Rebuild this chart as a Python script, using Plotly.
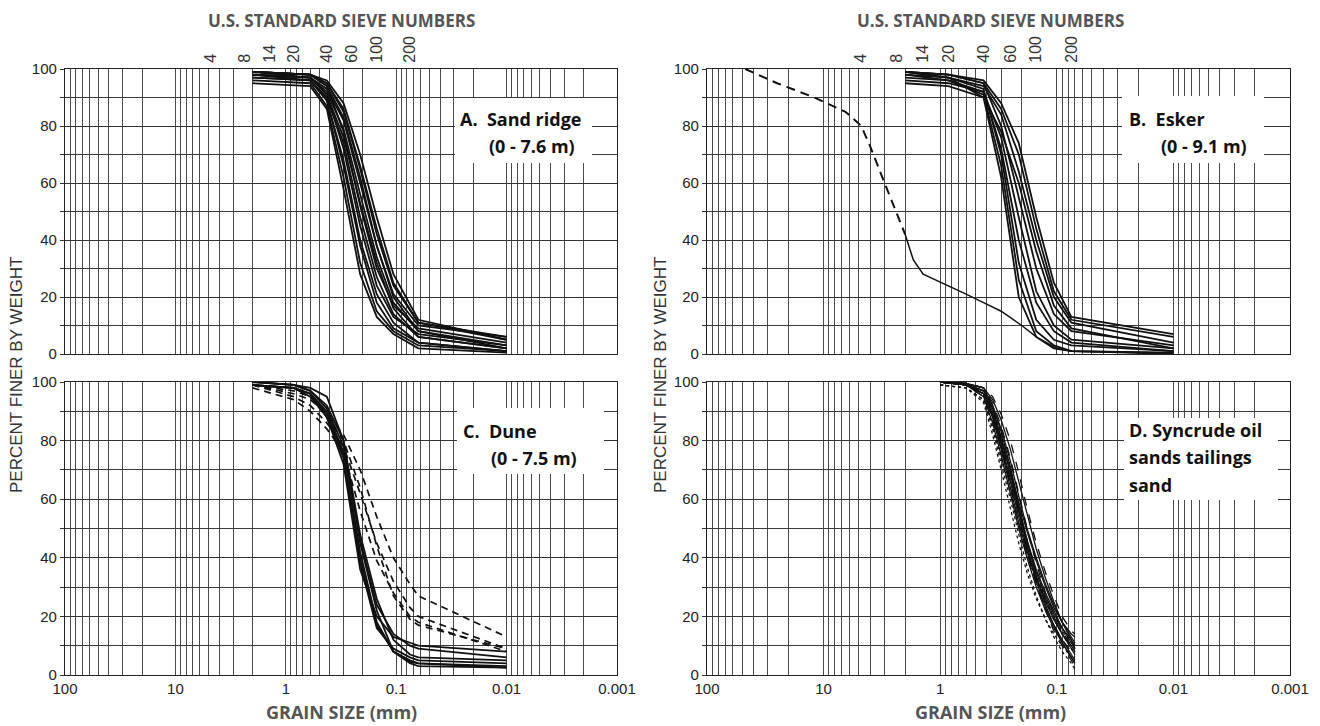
import plotly.graph_objects as go

W, H = 1320, 726
OX, OY = 8, 8  # page body offset of the rendered figure

# ---------------- axis labels / ticks ----------------
sieve_numbers = ["4", "8", "14", "20", "40", "60", "100", "200"]
sieve_sizes_mm = [4.75, 2.36, 1.40, 0.85, 0.425, 0.25, 0.15, 0.075]
grain_ticks = [100, 10, 1, 0.1, 0.01, 0.001]
grain_tick_text = ["100", "10", "1", "0.1", "0.01", "0.001"]
percent_ticks = [0, 20, 40, 60, 80, 100]

# ---------------- Panel A: Sand ridge ----------------
a_sizes = [2.0, 0.6, 0.425, 0.3, 0.212, 0.15, 0.106, 0.063, 0.01]
a_curves = [
    [99, 98, 94, 78, 52, 30, 17, 9, 4],
    [99, 98, 95, 85, 65, 42, 24, 11, 6],
    [98, 97, 91, 72, 45, 24, 13, 7, 3],
    [97, 96, 89, 66, 38, 18, 9, 4, 1],
    [99, 98, 96, 88, 70, 48, 28, 12, 5],
    [96, 95, 87, 62, 32, 15, 8, 3, 1],
    [98, 97, 92, 79, 56, 34, 18, 8, 3],
    [99, 98, 95, 86, 66, 44, 25, 11, 5],
    [95, 94, 86, 58, 28, 13, 7, 2, 0.5],
    [98, 96, 90, 74, 48, 27, 14, 6, 2],
    [99, 97, 93, 82, 60, 38, 21, 10, 6],
    [97, 96, 89, 68, 40, 21, 11, 4, 1],
    [99, 98, 94, 83, 62, 38, 20, 8, 2],
    [98, 97, 91, 76, 53, 32, 16, 6, 2],
]

# ---------------- Panel B: Esker ----------------
b_sizes = [2.0, 0.85, 0.425, 0.3, 0.212, 0.15, 0.106, 0.075, 0.01]
b_curves = [
    [99, 98, 96, 88, 74, 48, 25, 13, 7],
    [99, 98, 95, 86, 70, 44, 22, 12, 6],
    [98, 97, 94, 84, 64, 40, 20, 11, 4],
    [99, 98, 95, 80, 55, 30, 14, 8, 3],
    [96, 95, 92, 76, 48, 22, 10, 5, 2],
    [99, 97, 93, 70, 32, 12, 5, 3, 1],
    [98, 96, 91, 66, 26, 8, 3, 1, 0.5],
    [99, 97, 90, 62, 20, 6, 2, 1, 0.3],
    [97, 96, 92, 72, 40, 18, 8, 4, 1],
    [95, 94, 90, 78, 60, 36, 17, 9, 2],
]
# gravelly sample: coarse (dashed) part and fine (solid) part
b_gravel_coarse_sizes = [47, 25, 12, 6.5, 4.75, 4.0, 3.0, 2.0]
b_gravel_coarse_vals = [100, 95, 90, 85, 80, 73, 60, 42]
b_gravel_fine_sizes = [2.0, 1.7, 1.4, 0.85, 0.6, 0.425, 0.3, 0.2, 0.15, 0.1, 0.075, 0.01]
b_gravel_fine_vals = [42, 33, 28, 24, 21, 18, 15, 10, 6, 2, 1, 0]

# ---------------- Panel C: Dune ----------------
c_sizes = [2.0, 0.85, 0.6, 0.425, 0.3, 0.212, 0.15, 0.106, 0.075, 0.063, 0.01]
c_solid = [
    [100, 99, 98, 95, 80, 45, 22, 8, 4, 3, 2.5],
    [99, 98, 96, 90, 76, 42, 18, 8, 5, 4, 2.5],
    [99, 98, 96, 88, 74, 38, 16, 9, 6, 5, 4],
    [100, 99, 97, 91, 78, 46, 24, 14, 10, 9, 6],
    [99, 98, 95, 88, 72, 36, 20, 13, 11, 10, 8],
    [100, 99, 97, 92, 80, 48, 26, 12, 7, 6, 5],
    [99, 98, 96, 89, 75, 40, 17, 8, 4.5, 4, 3],
]
c_dashed = [
    [99, 96, 94, 89, 82, 70, 54, 40, 31, 27, 13],
    [99, 95, 92, 86, 78, 62, 45, 32, 23, 20, 9],
    [98, 94, 90, 84, 76, 56, 39, 28, 20, 18, 8],
    [99, 97, 95, 88, 80, 64, 44, 27, 19, 17, 9],
]

# ---------------- Panel D: Syncrude tailings sand ----------------
d_sizes = [1.0, 0.6, 0.425, 0.355, 0.3, 0.25, 0.212, 0.18, 0.15, 0.125, 0.106, 0.09, 0.075, 0.07]
d_curves = [
    [100, 99, 96, 88, 78, 66, 54, 43, 32, 23, 17, 12, 7, 5],
    [100, 99, 97, 91, 82, 70, 57, 46, 35, 26, 19, 14, 9, 7],
    [100, 99, 95, 86, 75, 62, 50, 40, 30, 22, 16, 11, 6, 4],
    [100, 99.5, 98, 93, 85, 74, 62, 50, 38, 28, 21, 15, 10, 8],
    [100, 99, 96, 89, 79, 67, 56, 45, 35, 27, 21, 16, 12, 10],
    [99, 98, 94, 84, 72, 60, 48, 37, 27, 19, 13, 8, 4, 2],
    [100, 99.5, 98, 94, 87, 77, 66, 55, 43, 33, 25, 18, 13, 11],
    [100, 99, 97, 90, 80, 68, 55, 43, 31, 22, 15, 10, 5, 3],
    [100, 99, 96, 89, 80, 70, 59, 49, 39, 30, 23, 18, 14, 13],
    [99, 98, 93, 82, 70, 57, 45, 35, 26, 19, 14, 10, 6, 5],
    [100, 99.5, 98, 92, 83, 71, 58, 46, 34, 24, 17, 11, 6, 4],
    [100, 99, 97, 91, 81, 69, 56, 44, 33, 25, 19, 14, 10, 8],
    [100, 99, 95, 87, 77, 65, 52, 41, 31, 23, 17, 12, 8, 6],
    [100, 99.5, 97, 92, 84, 73, 61, 50, 40, 31, 24, 18, 12, 9],
    [99, 98, 94, 85, 74, 62, 51, 41, 32, 25, 19, 15, 11, 9],
    [100, 99, 96, 90, 81, 69, 57, 46, 36, 28, 22, 16, 11, 9],
    [100, 99.5, 98, 95, 89, 80, 69, 57, 45, 35, 27, 20, 15, 14],
    [100, 99, 96, 88, 77, 64, 52, 42, 33, 26, 20, 14, 9, 7],
]
d_dash_styles = ["solid", "dot", "solid", "dash", "solid", "dot", "solid", "dash",
                 "solid", "dot", "solid", "solid", "dash", "solid", "dot", "solid",
                 "dash", "solid"]

# ---------------- figure ----------------
INK = "#111111"
fig = go.Figure()


def add(x, y, ax, width=1.8, dash="solid"):
    fig.add_trace(go.Scatter(
        x=x, y=y, mode="lines", xaxis="x" + ax, yaxis="y" + ax,
        line=dict(color=INK, width=width, dash=dash),
        showlegend=False, hoverinfo="skip"))


for c in a_curves:
    add(a_sizes, c, "")
for c in b_curves:
    add(b_sizes, c, "2")
add(b_gravel_coarse_sizes, b_gravel_coarse_vals, "2", width=2.0, dash="9px,6px")
add(b_gravel_fine_sizes, b_gravel_fine_vals, "2", width=1.5)
for c in c_solid:
    add(c_sizes, c, "3")
for c in c_dashed:
    add(c_sizes, c, "3", width=1.7, dash="7px,5px")
for c, d in zip(d_curves, d_dash_styles):
    add(d_sizes, c, "4", width=1.3, dash=d)

# log grid positions (1..9 in every decade)
grid_vals = [m * 10 ** k for k in range(-3, 2) for m in range(1, 10)] + [100]


def PX(x):
    return (x - OX) / W


def PY(y):
    return 1 - (y - OY) / H


GRID = "#4a4a4a"
LEFT_X = [PX(65), PX(617)]
RIGHT_X = [PX(707), PX(1290)]
TOP_Y = [PY(354), PY(69)]
BOT_Y = [PY(675), PY(382)]

tickfont = dict(family="Liberation Sans, Arial", size=15, color="#222")


def xaxis(domain, anchor, top):
    d = dict(type="log", domain=domain, anchor=anchor, range=[2, -3],
             automargin=False, ticklabeloverflow="allow",
             showline=True, mirror=True, linecolor="#222", linewidth=1.2,
             zeroline=False,
             minor=dict(tickmode="array", tickvals=grid_vals, showgrid=True,
                        gridcolor=GRID, gridwidth=1, ticks=""))
    if top:
        d.update(side="top", tickmode="array", tickvals=sieve_sizes_mm,
                 ticktext=sieve_numbers, tickangle=-90, showgrid=False,
                 ticks="", ticklabelstandoff=2,
                 tickfont=dict(family="Liberation Sans, Arial", size=16, color="#333"))
    else:
        d.update(tickmode="array", tickvals=grain_ticks, ticktext=grain_tick_text,
                 showgrid=True, gridcolor=GRID, gridwidth=1, ticks="",
                 tickfont=tickfont)
    return d


def yaxis(domain, anchor):
    return dict(domain=domain, anchor=anchor, range=[0, 100], automargin=False,
                tickmode="array", tickvals=percent_ticks,
                showgrid=True, gridcolor="#333", gridwidth=1.2,
                showline=True, mirror=True, linecolor="#222", linewidth=1.2,
                zeroline=False, ticks="outside", ticklen=4, tickcolor="#333",
                tickfont=tickfont,
                minor=dict(dtick=10, showgrid=True, gridcolor="#3a3a3a",
                           gridwidth=1, ticks="outside", ticklen=4, tickcolor="#333"))


fig.update_layout(
    template="none",
    width=W, height=H, autosize=False,
    margin=dict(l=0, r=0, t=0, b=0, pad=0),
    paper_bgcolor="white", plot_bgcolor="white",
    xaxis=xaxis(LEFT_X, "y", True),
    yaxis=yaxis(TOP_Y, "x"),
    xaxis2=xaxis(RIGHT_X, "y2", True),
    yaxis2=yaxis(TOP_Y, "x2"),
    xaxis3=xaxis(LEFT_X, "y3", False),
    yaxis3=yaxis(BOT_Y, "x3"),
    xaxis4=xaxis(RIGHT_X, "y4", False),
    yaxis4=yaxis(BOT_Y, "x4"),
)

# white label boxes
boxes = [(455, 98, 592, 163), (1122, 96, 1264, 163), (457, 408, 604, 474), (1124, 418, 1278, 500)]
for x0, y0, x1, y1 in boxes:
    fig.add_shape(type="rect", xref="paper", yref="paper",
                  x0=PX(x0), x1=PX(x1), y0=PY(y0), y1=PY(y1),
                  fillcolor="white", line=dict(width=0), layer="above")

labfont = dict(family="Open Sans, Noto Sans", size=18, color="#111")
panel_lines = [
    ("A.\u00a0 Sand ridge", 458, 119), ("(0 - 7.6 m)", 487, 146),
    ("B.\u00a0 Esker", 1127, 119), ("(0 - 9.1 m)", 1159, 146),
    ("C.\u00a0 Dune", 461, 431), ("(0 - 7.5 m)", 489, 458),
    ("D. Syncrude oil", 1127, 430), ("sands tailings", 1127, 457), ("sand", 1127, 485),
]
for txt, x, y in panel_lines:
    fig.add_annotation(text="<b>" + txt + "</b>", xref="paper", yref="paper",
                       x=PX(x), y=PY(y), xanchor="left", yanchor="middle",
                       showarrow=False, font=labfont)

titlefont = dict(family="Open Sans, Noto Sans", size=17, color="#555")
for cx in (341, 990):
    fig.add_annotation(text="<b>U.S. STANDARD SIEVE NUMBERS</b>", xref="paper", yref="paper",
                       x=PX(cx), y=PY(8), xanchor="center", yanchor="top",
                       borderpad=0, showarrow=False, font=titlefont)
    fig.add_annotation(text="<b>GRAIN SIZE (mm)</b>", xref="paper", yref="paper",
                       x=PX(cx), y=PY(712), xanchor="center", yanchor="middle",
                       showarrow=False, font=dict(family="Open Sans, Noto Sans", size=18, color="#555"))
for cx in (17, 661):
    fig.add_annotation(text="PERCENT FINER BY WEIGHT", xref="paper", yref="paper",
                       x=PX(cx), y=PY(375), xanchor="center", yanchor="middle",
                       textangle=-90, showarrow=False,
                       font=dict(family="Liberation Sans, Arial", size=17, color="#333"))

fig.write_html("out.html")
